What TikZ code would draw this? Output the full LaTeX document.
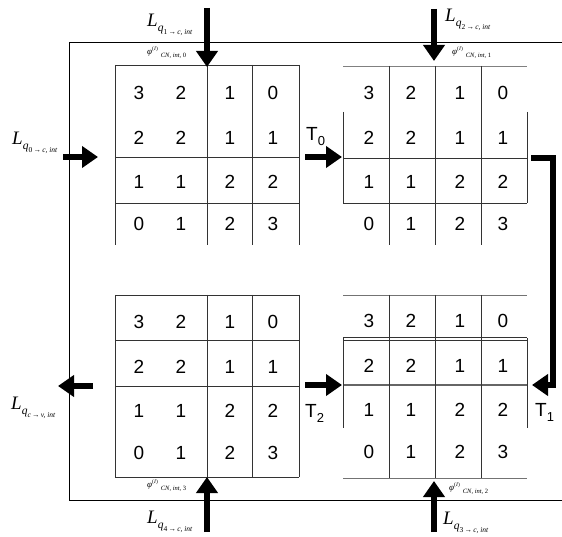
\documentclass[tikz,border=0pt]{standalone}
\usepackage{fontspec}
\setmainfont{Liberation Serif}
\newfontfamily\arialfont{Liberation Sans}
\usetikzlibrary{arrows.meta}

% L_{q_{...}} message labels
\newcommand\Lq[1]{{\fontsize{19}{19}\selectfont\itshape L}\raisebox{-5pt}{\fontsize{11.5}{11.5}\selectfont\itshape q}\raisebox{-8pt}{\fontsize{7.5}{7.5}\selectfont #1}}
% phi^{(I)}_{CN,int,k} labels
\newcommand\philab[1]{{\fontsize{9}{9}\selectfont\itshape φ}\raisebox{4pt}{\fontsize{5.5}{5.5}\selectfont(\textit{I})}\kern3pt\raisebox{-3pt}{\fontsize{6.5}{6.5}\selectfont\itshape CN, int, \upshape #1}}
% T_k labels
\newcommand\Tlab[1]{T\raisebox{-5pt}{\fontsize{13}{13}\selectfont #1}}

\begin{document}
\begin{tikzpicture}[x=1pt,y=-1pt,
  gridline/.style={line width=0.8pt, draw=black!80},
  fatarrow/.style={line width=6.5pt, -{Triangle[length=16pt,width=21pt]}},
  digit/.style={font=\arialfont\fontsize{19}{19}\selectfont, inner sep=0pt},
  tlabel/.style={font=\arialfont\fontsize{19}{19}\selectfont, inner sep=0pt, anchor=base west},
  lab/.style={inner sep=0pt, anchor=base west}]
\useasboundingbox (0,0) rectangle (562,537);
\fill[white] (0,0) rectangle (562,537);

% outer frame (open on the right)
\draw[line width=1pt] (562,43) -- (69,43) -- (69,500) -- (562,500);

% ---- grid 0 (top left)
\draw[gridline] (115,65) -- (299,65);
\draw[gridline] (115,157) -- (299,157);
\draw[gridline] (115,203) -- (299,203);
\foreach \x in {115,207,252,299} \draw[gridline] (\x,65) -- (\x,245);

% ---- grid 1 (top right)
\draw[gridline, draw=black!50] (343,66) -- (527,66);
\draw[gridline] (343,158) -- (527,158);
\draw[gridline] (343,203) -- (527,203);
\foreach \x in {389,435,481} \draw[gridline] (\x,66) -- (\x,245);
\foreach \x in {343,527} \draw[gridline] (\x,112) -- (\x,203);

% ---- grid 3 (bottom left)
\draw[gridline] (115,295) -- (299,295);
\draw[gridline] (115,340) -- (299,340);
\draw[gridline] (115,386) -- (299,386);
\draw[gridline] (115,477) -- (299,477);
\foreach \x in {115,207,252,299} \draw[gridline] (\x,295) -- (\x,477);

% ---- grid 2 (bottom right)
\draw[gridline, draw=black!55] (343,295) -- (527,295);
\draw[gridline] (343,337) -- (527,337);
\draw[gridline] (343,340) -- (527,340);
\draw[gridline, line width=1.4pt, draw=black!60] (343,385) -- (527,385);
\draw[gridline, draw=black!55] (343,478) -- (527,478);
\foreach \x in {389,435,481} \draw[gridline] (\x,295) -- (\x,478);
\foreach \x in {343,527} \draw[gridline] (\x,338) -- (\x,428);

% ---- digits of the four grids
\foreach \g/\ox/\oy in {a/0/0, b/230/0, c/0/229, d/230/228}{
  \foreach \yy/\da/\db/\dc/\dd [count=\r] in {93/3/2/1/0, 138/2/2/1/1, 182/1/1/2/2, 224/0/1/2/3}{
    \node[digit] (\g-\r-1) at (\ox+139,\oy+\yy) {\da};
    \node[digit] (\g-\r-2) at (\ox+181,\oy+\yy) {\db};
    \node[digit] (\g-\r-3) at (\ox+230,\oy+\yy) {\dc};
    \node[digit] (\g-\r-4) at (\ox+273,\oy+\yy) {\dd};
  }
}

% ---- arrow end points
\coordinate (in1s) at (207,8);    \coordinate (in1e) at (207,67);
\coordinate (in2s) at (434,9);    \coordinate (in2e) at (434,61);
\coordinate (in0s) at (63,157);   \coordinate (in0e) at (98,157);
\coordinate (t0s)  at (305,157);  \coordinate (t0e)  at (342,157);
\coordinate (t1s)  at (531,158);  \coordinate (t1k)  at (553,385);
\coordinate (t1e)  at (532,385);
\coordinate (t2s)  at (305,385);  \coordinate (t2e)  at (342,385);
\coordinate (outs) at (93,386);   \coordinate (oute) at (58,386);
\coordinate (in4s) at (207,532);  \coordinate (in4e) at (207,477);
\coordinate (in3s) at (434,532);  \coordinate (in3e) at (434,481);

\draw[fatarrow] (in1s) -- (in1e);
\draw[fatarrow] (in2s) -- (in2e);
\draw[fatarrow] (in0s) -- (in0e);
\draw[fatarrow] (t0s) -- (t0e);
\draw[fatarrow, line join=miter] (t1s) -| (t1k) -- (t1e);
\draw[fatarrow] (t2s) -- (t2e);
\draw[fatarrow] (outs) -- (oute);
\draw[fatarrow] (in4s) -- (in4e);
\draw[fatarrow] (in3s) -- (in3e);

% ---- labels
\node[lab] (lq1) at (147,27)  {\Lq{1\,→\,\textit{c, int}}};
\node[lab] (lq2) at (445,22)  {\Lq{2\,→\,\textit{c, int}}};
\node[lab] (lq0) at (12,145)  {\Lq{0\,→\,\textit{c, int}}};
\node[lab] (lqc) at (11,409)  {\Lq{\textit{c}\,→\,\textit{v, int}}};
\node[lab] (lq4) at (147,523) {\Lq{4\,→\,\textit{c, int}}};
\node[lab] (lq3) at (443,524) {\Lq{3\,→\,\textit{c, int}}};

\node[lab] (phi0) at (147,55)  {\philab{0}};
\node[lab] (phi1) at (452,55)  {\philab{1}};
\node[lab] (phi3) at (147,487) {\philab{3}};
\node[lab] (phi2) at (449,490) {\philab{2}};

\node[tlabel] (T0) at (306,141) {\Tlab{0}};
\node[tlabel] (T2) at (305,417) {\Tlab{2}};
\node[tlabel] (T1) at (535,416) {\Tlab{1}};
\end{tikzpicture}
\end{document}
